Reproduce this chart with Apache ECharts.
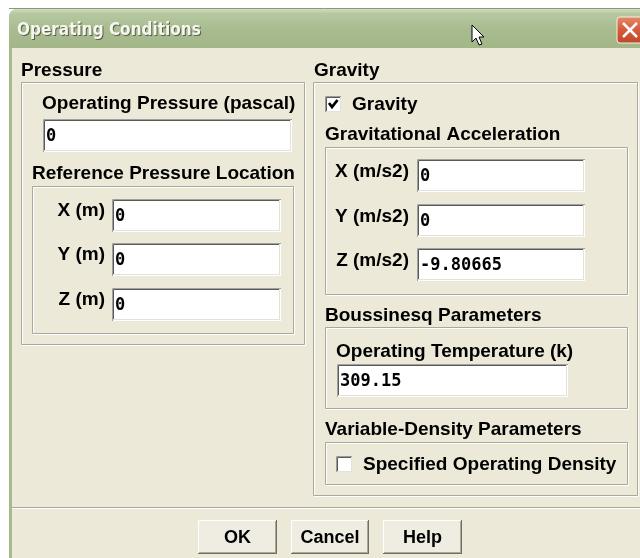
<!DOCTYPE html>
<html>
<head>
<meta charset="utf-8">
<script src="https://cdn.jsdelivr.net/npm/echarts@6/dist/echarts.min.js"></script>
<style>
  html, body { margin: 0; padding: 0; background: #fff; }
  #main { width: 640px; height: 558px; }
</style>
</head>
<body>
<div id="main"></div>
<script>
// dialog content
const dialogTitle = 'Operating Conditions';
const operatingPressure = '0';
const pressureFields = ['X (m)', 'Y (m)', 'Z (m)'];
const pressureValues = ['0', '0', '0'];
const gravityFields = ['X (m/s2)', 'Y (m/s2)', 'Z (m/s2)'];
const gravityValues = ['0', '0', '-9.80665'];
const gravityOn = true;
const operatingTemperature = '309.15';
const specifiedDensityOn = false;
const buttonLabels = ['OK', 'Cancel', 'Help'];

const BG = '#ece9d8';
const LABEL_FONT = 'bold 19px "Liberation Sans", Arial, sans-serif';
const VALUE_FONT = 'bold 17px "DejaVu Sans Mono", monospace';

const els = [];

function line(x1, y1, x2, y2, color) {
  els.push({ type: 'line', shape: { x1: x1, y1: y1, x2: x2, y2: y2 },
    style: { stroke: color, lineWidth: 1 }, silent: true });
}
function label(str, x, y, align) {
  els.push({ type: 'text', style: { text: str, x: x, y: y + 1, font: LABEL_FONT,
    fill: '#000', textAlign: align || 'left', textVerticalAlign: 'middle' } });
}
// etched group frame
function groupBox(x, y, w, h) {
  els.push({ type: 'rect', shape: { x: x + 1.5, y: y + 1.5, width: w, height: h },
    style: { fill: null, stroke: '#fff', lineWidth: 1 } });
  els.push({ type: 'rect', shape: { x: x + 0.5, y: y + 0.5, width: w, height: h },
    style: { fill: null, stroke: '#aca899', lineWidth: 1 } });
}
// sunken text field
function inputBox(x, y, w, h, value) {
  els.push({ type: 'rect', shape: { x: x, y: y, width: w, height: h }, style: { fill: '#fff' } });
  line(x + 0.5, y + 0.5, x + w, y + 0.5, '#a0a0a0');
  line(x + 0.5, y + 0.5, x + 0.5, y + h, '#a0a0a0');
  line(x + 1.5, y + 1.5, x + w - 1, y + 1.5, '#5a5a5a');
  line(x + 1.5, y + 1.5, x + 1.5, y + h - 1, '#5a5a5a');
  line(x + 1, y + h - 1.5, x + w - 1, y + h - 1.5, '#e4e2d6');
  line(x + w - 1.5, y + 1, x + w - 1.5, y + h - 1, '#e4e2d6');
  els.push({ type: 'text', style: { text: value, x: x + 3, y: y + h / 2 + 1, font: VALUE_FONT,
    fill: '#000', textAlign: 'left', textVerticalAlign: 'middle' } });
}
function checkBox(x, y, checked) {
  els.push({ type: 'rect', shape: { x: x, y: y, width: 16, height: 16 }, style: { fill: '#fff' } });
  line(x + 0.5, y + 0.5, x + 16, y + 0.5, '#9a9a9a');
  line(x + 0.5, y + 0.5, x + 0.5, y + 16, '#9a9a9a');
  line(x + 1.5, y + 1.5, x + 15, y + 1.5, '#5a5a5a');
  line(x + 1.5, y + 1.5, x + 1.5, y + 15, '#5a5a5a');
  line(x + 1, y + 15.5, x + 16, y + 15.5, '#e4e2d6');
  line(x + 15.5, y + 1, x + 15.5, y + 16, '#e4e2d6');
  if (checked) {
    els.push({ type: 'polyline', shape: { points: [[x + 4, y + 7], [x + 7, y + 11], [x + 12.5, y + 4]] },
      style: { stroke: '#000', lineWidth: 2.8, fill: null } });
  }
}
function button(x, y, w, h, str) {
  els.push({ type: 'rect', shape: { x: x, y: y, width: w, height: h }, style: { fill: '#efede2' } });
  line(x + 0.5, y + 0.5, x + w, y + 0.5, '#fff');
  line(x + 0.5, y + 0.5, x + 0.5, y + h, '#fff');
  line(x, y + h - 0.5, x + w, y + h - 0.5, '#716f64');
  line(x + w - 0.5, y, x + w - 0.5, y + h, '#716f64');
  line(x + 1, y + h - 1.5, x + w - 1, y + h - 1.5, '#aca899');
  line(x + w - 1.5, y + 1, x + w - 1.5, y + h - 1, '#aca899');
  els.push({ type: 'text', style: { text: str, x: x + w / 2, y: y + h / 2 + 1,
    font: 'bold 18px "Liberation Sans Narrow", "Liberation Sans", Arial, sans-serif', fill: '#000',
    textAlign: 'center', textVerticalAlign: 'middle' } });
}

// window frame and title bar
els.push({ type: 'rect', shape: { x: 9, y: 9, width: 640, height: 560, r: [8, 8, 0, 0] },
  style: { fill: new echarts.graphic.LinearGradient(0, 0, 0, 1, [
    { offset: 0, color: '#c4d3ae' }, { offset: 0.03, color: '#b2c59a' }, { offset: 0.08, color: '#a6ba8c' }, { offset: 1, color: '#a6ba8c' }]) } });
els.push({ type: 'rect', shape: { x: 9, y: 9, width: 640, height: 40, r: [8, 8, 0, 0] },
  style: { fill: new echarts.graphic.LinearGradient(0, 0, 0, 1, [
    { offset: 0, color: '#d2dcc2' }, { offset: 0.12, color: '#b6c8a0' }, { offset: 0.5, color: '#a9bc90' }, { offset: 1, color: '#a2b688' }]) } });
line(9, 8.5, 640, 8.5, '#8a9a78');
els.push({ type: 'rect', shape: { x: 12, y: 48, width: 640, height: 520 }, style: { fill: BG } });
const TITLE_FONT = 'bold 17px "DejaVu Sans Condensed", "DejaVu Sans", sans-serif';
els.push({ type: 'text', style: { text: dialogTitle, x: 18, y: 32, font: TITLE_FONT,
  fill: '#55604a', textAlign: 'left', textVerticalAlign: 'middle' } });
els.push({ type: 'text', style: { text: dialogTitle, x: 17, y: 31, font: TITLE_FONT,
  fill: '#f6f6ee', textAlign: 'left', textVerticalAlign: 'middle' } });
// close button
els.push({ type: 'rect', shape: { x: 617, y: 17, width: 30, height: 26, r: 3 },
  style: { fill: new echarts.graphic.LinearGradient(0, 0, 0, 1, [
    { offset: 0, color: '#e88a68' }, { offset: 0.5, color: '#d5593a' }, { offset: 1, color: '#c0462a' }]),
    stroke: '#f4efe6', lineWidth: 1 } });
els.push({ type: 'line', shape: { x1: 623, y1: 23, x2: 637, y2: 37 }, style: { stroke: '#fff', lineWidth: 2.5 } });
els.push({ type: 'line', shape: { x1: 637, y1: 23, x2: 623, y2: 37 }, style: { stroke: '#fff', lineWidth: 2.5 } });

// Pressure column
label('Pressure', 21, 70);
groupBox(21, 82, 283, 262);
label('Operating Pressure (pascal)', 42, 103);
inputBox(43, 119, 249, 33, operatingPressure);
label('Reference Pressure Location', 32, 173);
groupBox(32, 186, 261, 147);
const pressureRows = [199, 243, 288];
pressureFields.forEach(function (f, i) {
  label(f, 105, pressureRows[i] + 11, 'right');
  inputBox(112, pressureRows[i], 169, 33, pressureValues[i]);
});

// Gravity column
label('Gravity', 314, 70);
groupBox(313, 82, 324, 413);
checkBox(325, 96, gravityOn);
label('Gravity', 352, 104);
label('Gravitational Acceleration', 325, 134);
groupBox(325, 147, 302, 147);
const gravityRows = [159, 204, 248];
gravityFields.forEach(function (f, i) {
  label(f, 409, gravityRows[i] + 12, 'right');
  inputBox(417, gravityRows[i], 168, 33, gravityValues[i]);
});
label('Boussinesq Parameters', 325, 315);
groupBox(325, 327, 302, 81);
label('Operating Temperature (k)', 336, 351);
inputBox(337, 364, 231, 33, operatingTemperature);
label('Variable-Density Parameters', 325, 429);
groupBox(325, 442, 302, 42);
checkBox(336, 456, specifiedDensityOn);
label('Specified Operating Density', 363, 464);

// separator and buttons
line(12, 507.5, 640, 507.5, '#aca899');
line(12, 508.5, 640, 508.5, '#fff');
const buttonX = [198, 291, 383];
const buttonW = [79, 78, 79];
buttonLabels.forEach(function (b, i) {
  button(buttonX[i], 520, buttonW[i], 34, b);
});

// mouse pointer
const cx = 472, cy = 25;
els.push({ type: 'polygon', shape: { points: [[cx, cy], [cx, cy + 17], [cx + 4, cy + 13], [cx + 7, cy + 20],
  [cx + 10, cy + 19], [cx + 7, cy + 12], [cx + 12, cy + 12]] },
  style: { fill: '#fff', stroke: '#000', lineWidth: 1 } });

const chart = echarts.init(document.getElementById('main'), null, { renderer: 'canvas' });
chart.setOption({
  backgroundColor: '#fff',
  animation: false,
  graphic: { elements: els }
});
</script>
</body>
</html>
